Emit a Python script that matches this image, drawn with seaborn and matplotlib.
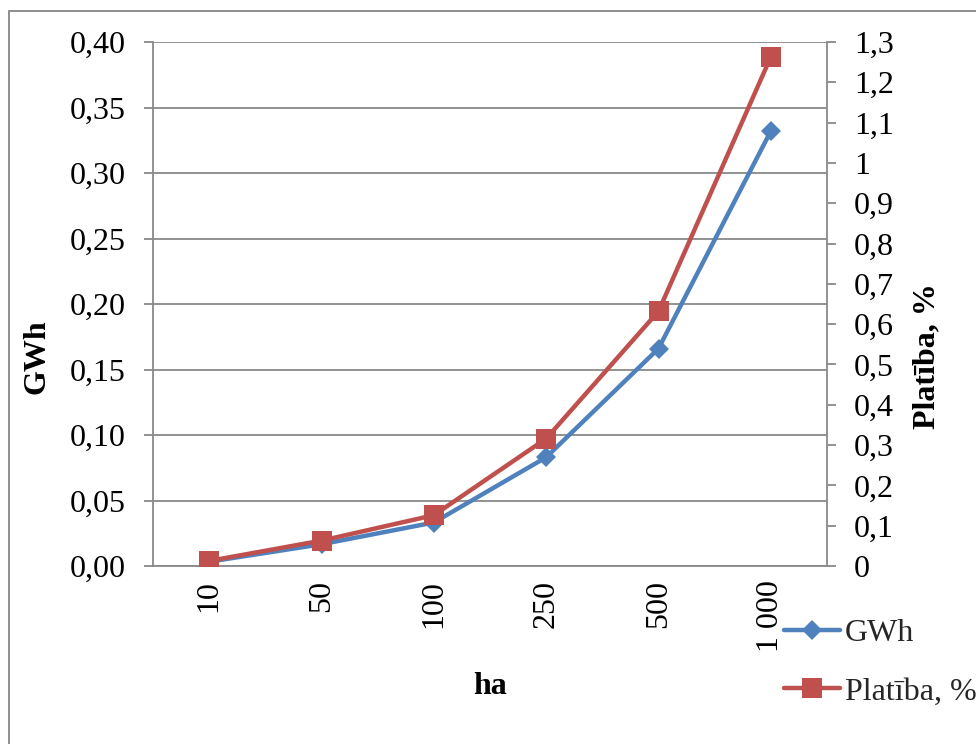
import matplotlib
matplotlib.use("Agg")
import matplotlib.pyplot as plt
from matplotlib.patches import Rectangle
from matplotlib.lines import Line2D
from matplotlib.ticker import FixedLocator, FuncFormatter
import seaborn as sns

# Farm area classes and the two series
ha = ["10", "50", "100", "250", "500", "1 000"]
gwh = [0.0033, 0.0166, 0.0332, 0.083, 0.166, 0.332]
platiba = [0.0126, 0.063, 0.126, 0.316, 0.632, 1.263]

left_ticks = [0.00, 0.05, 0.10, 0.15, 0.20, 0.25, 0.30, 0.35, 0.40]
right_ticks = [0, 0.1, 0.2, 0.3, 0.4, 0.5, 0.6, 0.7, 0.8, 0.9, 1.0, 1.1, 1.2, 1.3]

BLUE = "#4F81BD"
RED = "#C0504D"
GRID = "#898989"
FS = 23
LW = 3.2
MS_D = 10.5
MS_S = 15

sns.set_theme(style="white")
plt.rcParams["font.family"] = ["Liberation Serif", "DejaVu Serif"]

fig = plt.figure(figsize=(9.76, 7.44), dpi=100)
ax = fig.add_axes([153 / 976, 1 - 566 / 744, 674 / 976, 524 / 744])
ax2 = ax.twinx()

sns.lineplot(x=ha, y=gwh, ax=ax, sort=False, color=BLUE, linewidth=LW,
             marker="D", markersize=MS_D, markeredgewidth=0, markerfacecolor=BLUE)
sns.lineplot(x=ha, y=platiba, ax=ax2, sort=False, color=RED, linewidth=LW,
             marker="s", markersize=MS_S, markeredgewidth=0, markerfacecolor=RED)

ax.set_xlim(-0.5, len(ha) - 0.5)
ax.set_ylim(0, 0.40)
ax2.set_ylim(0, 1.3)

ax.yaxis.set_major_locator(FixedLocator(left_ticks))
ax.yaxis.set_major_formatter(FuncFormatter(lambda v, p: f"{v:.2f}".replace(".", ",")))
ax2.yaxis.set_major_locator(FixedLocator(right_ticks))
ax2.yaxis.set_major_formatter(FuncFormatter(lambda v, p: f"{round(v, 1):g}".replace(".", ",")))

# Category boundaries carry the tick marks; labels sit at category centres
ax.set_xticks(range(len(ha)))
ax.set_xticklabels(ha, rotation=90, fontsize=FS)
ax.set_xticks([i - 0.5 for i in range(len(ha) + 1)], minor=True)
ax.tick_params(axis="x", which="major", length=0, pad=10, labelsize=FS, colors="black")
ax.tick_params(axis="x", which="minor", length=9, width=1.3, color=GRID, direction="out")
ax.tick_params(axis="y", which="major", length=6.5, width=1.3, color=GRID, pad=13,
               labelsize=FS, labelcolor="black", left=True)
ax2.tick_params(axis="y", which="major", length=6.5, width=1.3, color=GRID, pad=13,
                labelsize=FS, labelcolor="black", right=True)

ax.grid(axis="y", color=GRID, linewidth=1.3)
ax.grid(axis="x", visible=False)
ax2.grid(False)
ax.set_axisbelow(True)

for a in (ax, ax2):
    for side, sp in a.spines.items():
        sp.set_color(GRID)
        sp.set_linewidth(1.3)
    a.spines["top"].set_visible(False)
ax.spines["right"].set_visible(False)
ax2.spines["left"].set_visible(False)
ax2.spines["bottom"].set_visible(False)

ax.set_xlabel("ha", fontsize=FS, fontweight="bold", color="black")
ax.xaxis.set_label_coords(0.5, -0.202)
ax.set_ylabel("GWh", fontsize=FS, fontweight="bold", color="black")
ax.yaxis.set_label_coords(-0.150, 0.40)
ax2.set_ylabel("Platība, %", fontsize=FS, fontweight="bold", color="black")
ax2.yaxis.set_label_coords(1.126, 0.40)

handles = [
    Line2D([], [], color=BLUE, linewidth=LW, marker="D", markersize=MS_D,
           markeredgewidth=0),
    Line2D([], [], color=RED, linewidth=LW, marker="s", markersize=MS_S,
           markeredgewidth=0),
]
fig.legend(handles, ["GWh", "Platība, %"], loc="upper left",
           bbox_to_anchor=(784 / 976, 1 - 619 / 744), frameon=False,
           fontsize=FS, handlelength=1.75, handletextpad=0.15,
           labelspacing=0.9, borderpad=0, borderaxespad=0)

# Outer chart border
fig.add_artist(Rectangle((9 / 976, -0.1), 1.2, 1 - 11 / 744 + 0.1,
                         transform=fig.transFigure, fill=False,
                         edgecolor="#868686", linewidth=1.3))

fig.savefig("out.png", dpi=100)
